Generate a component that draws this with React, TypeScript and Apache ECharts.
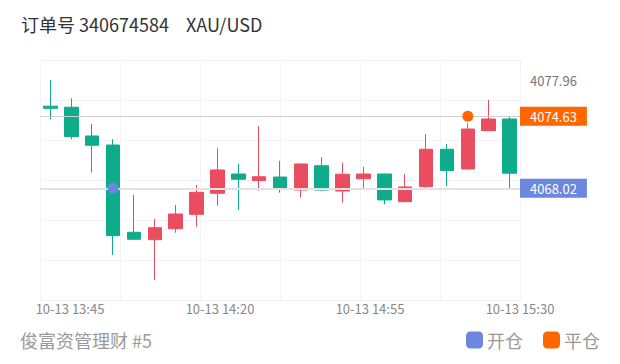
import React, { useEffect, useRef } from 'react';
import * as echarts from 'echarts';

const orderTitle = '订单号 340674584';
const symbolText = 'XAU/USD';
const footerText = '俊富资管理财 #5';
const datePrefix = '10-13';

const times = ['13:40', '13:45', '13:50', '13:55', '14:00', '14:05', '14:10', '14:15', '14:20', '14:25', '14:30', '14:35',
  '14:40', '14:45', '14:50', '14:55', '15:00', '15:05', '15:10', '15:15', '15:20', '15:25', '15:30'];
const opens = [4075.56, 4075.46, 4072.82, 4071.99, 4063.98, 4063.30, 4064.31, 4065.63, 4067.56, 4069.33, 4068.72, 4069.05,
  4067.86, 4070.09, 4067.77, 4068.90, 4069.33, 4066.79, 4068.17, 4071.60, 4069.79, 4073.31, 4074.38];
const closes = [4075.36, 4072.76, 4071.97, 4063.67, 4063.34, 4064.40, 4065.66, 4067.65, 4069.70, 4068.85, 4069.08, 4067.93,
  4070.25, 4067.86, 4069.31, 4069.33, 4066.95, 4068.14, 4071.60, 4069.64, 4073.46, 4074.38, 4069.40];
const lows = [4074.35, 4072.52, 4069.45, 4061.90, 4063.30, 4059.60, 4063.94, 4064.49, 4066.42, 4066.03, 4067.80, 4067.62,
  4067.16, 4067.80, 4066.70, 4068.02, 4066.55, 4066.75, 4068.02, 4068.23, 4069.75, 4073.28, 4068.02];
const highs = [4077.96, 4076.28, 4073.92, 4072.52, 4067.40, 4065.20, 4066.49, 4068.32, 4071.69, 4070.25, 4073.74, 4070.55,
  4070.30, 4070.87, 4070.37, 4070.00, 4069.35, 4069.33, 4073.00, 4072.09, 4073.99, 4076.13, 4074.59];

const tickLabels = ['10-13 13:45', '10-13 14:20', '10-13 14:55', '10-13 15:30'];
const labelAxisStart = '13:38';
const labelAxisEnd = '15:30';
const labelAxisStepMin = 7;

const openTrade = { name: '开仓', time: '13:55', price: 4068.02 };
const closeTrade = { name: '平仓', time: '15:20', price: 4074.63 };

const UP = '#EB4D60';
const DOWN = '#0FAC8C';
const OPEN_C = '#6C87DE';
const CLOSE_C = '#FF6600';
const FONT = "'Noto Sans CJK SC', 'Noto Sans', sans-serif";

const toMin = (s: string) => {
  const [h, m] = s.split(':').map(Number);
  return h * 60 + m;
};
const fmtMin = (v: number) => {
  const h = Math.floor(v / 60);
  const m = Math.round(v - h * 60);
  return `${datePrefix} ${String(h).padStart(2, '0')}:${String(m).padStart(2, '0')}`;
};

export default function App() {
  const ref = useRef<HTMLDivElement>(null);
  useEffect(() => {
    document.body.style.margin = '0';
    const chart = echarts.init(ref.current!, undefined, { renderer: 'svg' });
    const dataMin = Math.min(...lows);
    const dataMax = Math.max(...highs);
    const pad = (dataMax - dataMin) * 0.1;
    const candleData = times.map((_, i) => [opens[i], closes[i], lows[i], highs[i]]);
    const hiddenAxis = {
      axisLine: { show: false },
      axisTick: { show: false },
      axisLabel: { show: false },
      splitLine: { show: false },
    };
    const gridLines = {
      axisLine: { show: false },
      axisTick: { show: false },
      axisLabel: { show: false },
      splitLine: { show: true, lineStyle: { color: '#f3f3f3', width: 1 } },
    };
    const titleStyle = { fontSize: 18, fontWeight: 'normal', color: '#333', fontFamily: FONT };
    chart.setOption({
      animation: false,
      textStyle: { fontFamily: FONT },
      title: [
        { text: orderTitle, left: 21, top: 15, padding: 0, textStyle: titleStyle },
        { text: symbolText, left: 186, top: 15, padding: 0, textStyle: titleStyle },
        { text: footerText, left: 20, top: 331, padding: 0, textStyle: { ...titleStyle, color: '#999' } },
      ],
      legend: {
        data: [openTrade.name, closeTrade.name],
        right: 20,
        top: 331,
        padding: 0,
        icon: 'roundRect',
        itemWidth: 17,
        itemHeight: 17,
        itemGap: 20,
        textStyle: { color: '#999', fontSize: 18, fontFamily: FONT, padding: [0, 0, 0, -1] },
      },
      grid: { left: 40, top: 60, width: 480, height: 240 },
      xAxis: [
        { type: 'category', data: times, boundaryGap: true, position: 'top', ...hiddenAxis },
        {
          type: 'value',
          position: 'bottom',
          min: toMin(labelAxisStart),
          max: toMin(labelAxisEnd),
          interval: labelAxisStepMin,
          axisLine: { show: false, onZero: false },
          axisTick: { show: false },
          splitLine: { show: false },
          axisLabel: {
            show: true,
            color: '#888',
            fontSize: 13,
            margin: 2,
            showMinLabel: true,
            showMaxLabel: true,
            formatter: (v: number) => {
              const s = fmtMin(v);
              return tickLabels.includes(s) ? s : '';
            },
          },
        },
        { type: 'value', min: 0, max: 6, interval: 1, position: 'bottom', ...gridLines },
      ],
      yAxis: [
        { type: 'value', min: dataMin - pad, max: dataMax + pad, position: 'right', scale: true, ...hiddenAxis },
        { type: 'value', min: 0, max: 6, interval: 1, position: 'left', ...gridLines },
      ],
      series: [
        {
          type: 'candlestick',
          xAxisIndex: 0,
          yAxisIndex: 0,
          barWidth: 14,
          data: candleData,
          itemStyle: { color: UP, color0: DOWN, borderColor: UP, borderColor0: DOWN, borderWidth: 1 },
          markLine: {
            silent: true,
            symbol: ['none', 'none'],
            label: {
              position: 'end',
              distance: 0,
              padding: [3, 10, 3, 10],
              fontSize: 13,
              fontFamily: FONT,
              formatter: (p: any) => Number(p.value).toFixed(2),
            },
            data: [
              { yAxis: dataMax, lineStyle: { color: 'rgba(0,0,0,0)', width: 0 }, label: { color: '#777', padding: [0, 10, 4, 10] } },
              { yAxis: closeTrade.price, lineStyle: { color: '#cfcfcf', width: 1, type: 'solid' }, label: { color: '#fff', backgroundColor: CLOSE_C } },
              { yAxis: openTrade.price, lineStyle: { color: '#e2e2e2', width: 2, type: 'solid' }, label: { color: '#fff', backgroundColor: OPEN_C } },
            ],
          },
        },
        {
          name: openTrade.name,
          type: 'scatter',
          xAxisIndex: 0,
          yAxisIndex: 0,
          symbolSize: 11,
          itemStyle: { color: OPEN_C, opacity: 1 },
          data: [[openTrade.time, openTrade.price]],
          z: 5,
        },
        {
          name: closeTrade.name,
          type: 'scatter',
          xAxisIndex: 0,
          yAxisIndex: 0,
          symbolSize: 11,
          itemStyle: { color: CLOSE_C, opacity: 1 },
          data: [[closeTrade.time, closeTrade.price]],
          z: 5,
        },
      ],
    });
    return () => chart.dispose();
  }, []);
  return <div ref={ref} style={{ width: 620, height: 364 }} />;
}
